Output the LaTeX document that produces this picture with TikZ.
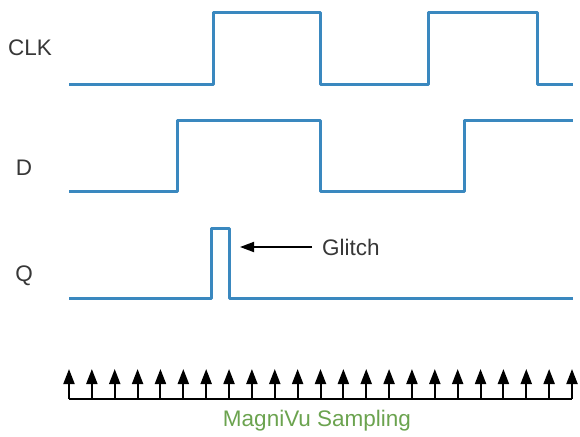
\documentclass[tikz,border=0pt]{standalone}
\usepackage{fontspec}
\setmainfont{Liberation Sans}
\usetikzlibrary{arrows.meta,calc}
\definecolor{sigblue}{RGB}{58,136,191}
\definecolor{sampgreen}{RGB}{107,163,79}
\definecolor{labgray}{RGB}{55,55,55}

\begin{document}
\begin{tikzpicture}[x=1pt,y=-1pt,
  wave/.style={sigblue,line width=3pt,line join=round},
  sigtext/.style={text=labgray,font=\fontsize{22.5}{26}\selectfont,inner sep=0pt},
  tick/.style={line width=2pt,-{Triangle[width=11pt,length=15pt]}}]
\useasboundingbox (0,0) rectangle (580,436);
% signal names
\node[sigtext] (clk) at (30,48) {CLK};
\node[sigtext] (d) at (24,168) {D};
\node[sigtext] (q) at (24,276) {Q};
% waveforms
\draw[wave] (69,84)--(213,84)--(213,13)--(320,13)--(320,84)--(428,84)--(428,13)--(537,13)--(537,84)--(573,84);
\draw[wave] (69,191)--(177,191)--(177,120)--(320,120)--(320,191)--(464,191)--(464,120)--(573,120);
\draw[wave] (69,298)--(211,298)--(211,228)--(229,228)--(229,298)--(573,298);
% glitch marker
\node[sigtext,anchor=west] (glitch) at (322,247) {Glitch};
\coordinate (gtip) at (240,247);
\draw[line width=1.8pt,-{Triangle[width=10pt,length=14pt]}] ([xshift=-10pt]glitch.west) -- (gtip);
% sampling clock
\coordinate (sl) at (69,399);
\coordinate (sr) at (572,399);
\draw[line width=2pt] (sl) -- (sr);
\foreach \i in {0,...,22}
  \draw[tick] ($(sl)!\i/22!(sr)$) -- ++(0,-30);
\node[sigtext,text=sampgreen] (samp) at (317,421) {MagniVu Sampling};
\end{tikzpicture}
\end{document}
